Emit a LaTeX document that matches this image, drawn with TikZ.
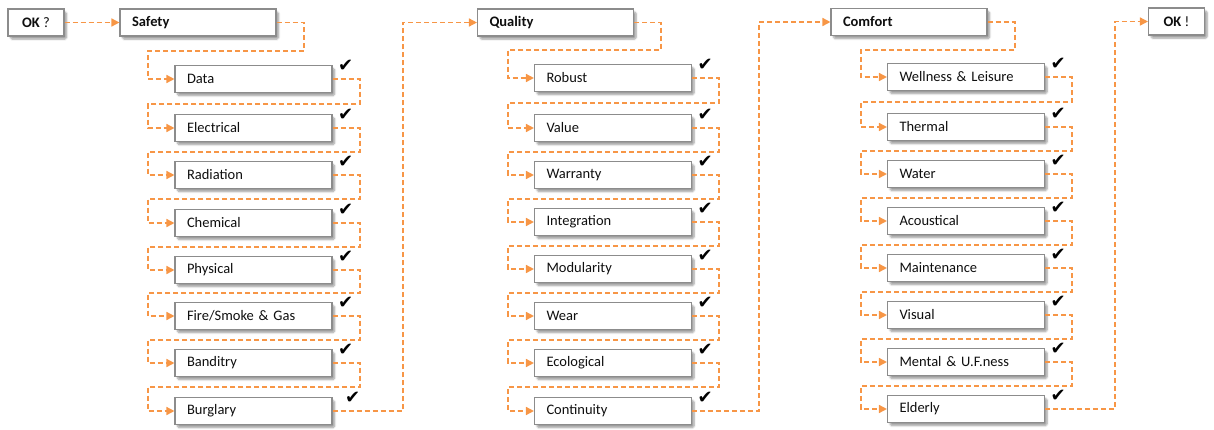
\documentclass[tikz,border=0pt]{standalone}
\usepackage{fontspec}
\setmainfont{Carlito}
\newfontfamily\symfont{DejaVu Sans}
\usetikzlibrary{arrows.meta,calc,shadows.blur}
\definecolor{conncol}{RGB}{247,150,70}
\definecolor{boxline}{RGB}{140,140,140}
\definecolor{txtcol}{RGB}{15,15,15}
\tikzset{
  box/.style={draw=boxline, line width=1.1pt, fill=white, rectangle,
    minimum height=27pt, inner ysep=0pt, inner xsep=12pt, align=left,
    font=\fontsize{14.5}{16}\selectfont, text=txtcol,
    blur shadow={shadow xshift=2.5pt, shadow yshift=-3pt, shadow blur steps=6, shadow blur extra rounding=1.5pt, shadow opacity=40}},
  itembox/.style={box, minimum width=157pt, text width=133pt},
  headbox/.style={box, minimum width=156pt, text width=132pt, font=\fontsize{14.5}{16}\selectfont\bfseries},
  okbox/.style={box, minimum width=56pt, align=center, inner xsep=2pt},
  conn/.style={draw=conncol, line width=1.5pt, dash pattern=on 5pt off 3pt,
    -{Triangle[length=8pt,width=8pt,fill=conncol]}},
  tick/.style={font=\symfont\fontsize{18}{18}\selectfont, inner sep=0pt}
}
\newcommand{\stepline}[2]{%
  \draw[conn] let \p1=(#1.east), \p2=(#2.west),
    \n1={round(\x1+27pt)}, \n2={round((\y1+\y2)/2)}, \n3={round(\x2-26pt)} in
    (\p1) -- (\n1,\y1) -- (\n1,\n2) -- (\n3,\n2) -- (\n3,\y2) -- (\p2);}
\newcommand{\longline}[3]{%
  \draw[conn] let \p1=(#1.east), \p2=(#2.west), \n1={round(\x1+#3pt)} in
    (\p1) -- (\n1,\y1) -- (\n1,\y2) -- (\p2);}
\begin{document}
\begin{tikzpicture}[x=1pt,y=-1pt]
\useasboundingbox (0,0) rectangle (1214,429);
% start / end
\node[okbox] (okq) at (36,22.5) {\textbf{OK} ?};
\node[okbox] (okx) at (1176.5,21.5) {\textbf{OK} !};
% headers
\node[headbox] (safety) at (198,22.5) {Safety};
\node[headbox] (quality) at (555.5,22.5) {Quality};
\node[headbox] (comfort) at (909,22) {Comfort};
% Safety items
\foreach \n/\t/\y in {s1/Data/79, s2/Electrical/128, s3/Radiation/175, s4/Chemical/223, s5/Physical/270, s6/{Fire/Smoke \& Gas}/316, s7/Banditry/363, s8/Burglary/411}
  \node[itembox] (\n) at (253.5,\y) {\t};
% Quality items
\foreach \n/\t/\y in {q1/Robust/78, q2/Value/128, q3/Warranty/175, q4/Integration/222, q5/Modularity/269, q6/Wear/316, q7/Ecological/363, q8/Continuity/411}
  \node[itembox] (\n) at (613,\y) {\t};
% Comfort items
\foreach \n/\t/\y in {c1/{Wellness \& Leisure}/77, c2/Thermal/127, c3/Water/174, c4/Acoustical/221, c5/Maintenance/268, c6/Visual/315, c7/{Mental \& U.F.ness}/362, c8/Elderly/409}
  \node[itembox] (\n) at (966,\y) {\t};
% ticks
\foreach \n in {s1,s2,s3,s4,s5,s6,s7}
  \node[tick] (t\n) at ($(\n.north east)+(13,0.5)$) {✔};
\node[tick] (ts8) at ($(s8.north east)+(20,0.5)$) {✔};
\foreach \n in {q1,q2,q3,q4,q5,q6,q7,q8}
  \node[tick] (t\n) at ($(\n.north east)+(13,0.5)$) {✔};
\foreach \n in {c1,c2,c3,c4,c5,c6,c7,c8}
  \node[tick] (t\n) at ($(\n.north east)+(13,0.5)$) {✔};
% connectors
\draw[conn] (okq.east) -- (safety.west);
\stepline{safety}{s1}
\stepline{s1}{s2}\stepline{s2}{s3}\stepline{s3}{s4}\stepline{s4}{s5}
\stepline{s5}{s6}\stepline{s6}{s7}\stepline{s7}{s8}
\longline{s8}{quality}{70}
\stepline{quality}{q1}
\stepline{q1}{q2}\stepline{q2}{q3}\stepline{q3}{q4}\stepline{q4}{q5}
\stepline{q5}{q6}\stepline{q6}{q7}\stepline{q7}{q8}
\longline{q8}{comfort}{67}
\stepline{comfort}{c1}
\stepline{c1}{c2}\stepline{c2}{c3}\stepline{c3}{c4}\stepline{c4}{c5}
\stepline{c5}{c6}\stepline{c6}{c7}\stepline{c7}{c8}
\longline{c8}{okx}{70}
\end{tikzpicture}
\end{document}
